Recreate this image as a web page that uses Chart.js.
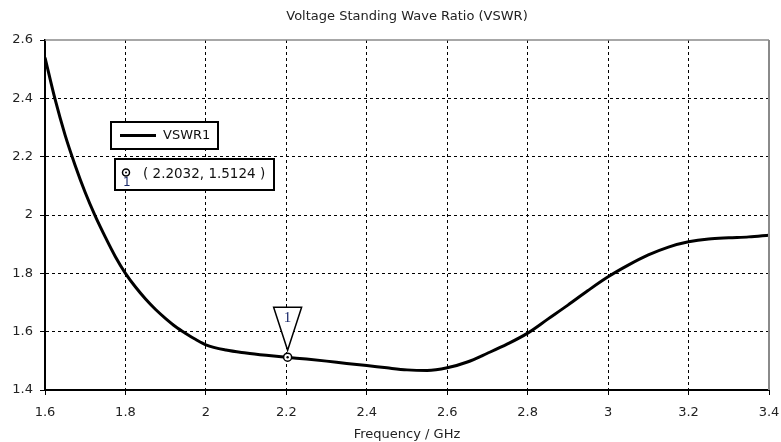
<!DOCTYPE html>
<html>
<head>
<meta charset="utf-8">
<script src="https://cdn.jsdelivr.net/npm/chart.js@4.4.1/dist/chart.umd.min.js"></script>
<style>
html,body{margin:0;padding:0;background:#fff;}
#wrap{width:781px;height:442px;}
</style>
</head>
<body>
<div id="wrap"><canvas id="c" width="781" height="442"></canvas></div>
<script>
const chartTitle = "Voltage Standing Wave Ratio (VSWR)";
const xTitle = "Frequency / GHz";
const seriesName = "VSWR1";
const freq = [1.6,1.625,1.65,1.675,1.7,1.725,1.75,1.775,1.8,1.825,1.85,1.875,1.9,1.925,1.95,1.975,2.0,2.05,2.1,2.15,2.2,2.25,2.3,2.35,2.4,2.45,2.5,2.55,2.6,2.65,2.7,2.75,2.8,2.85,2.9,2.95,3.0,3.05,3.1,3.15,3.2,3.25,3.3,3.35,3.4];
const vswr = [2.540,2.397,2.274,2.170,2.077,1.996,1.924,1.857,1.800,1.753,1.712,1.676,1.645,1.617,1.594,1.573,1.555,1.537,1.527,1.519,1.512,1.506,1.499,1.491,1.484,1.476,1.469,1.467,1.476,1.496,1.526,1.558,1.595,1.643,1.691,1.741,1.788,1.828,1.863,1.890,1.908,1.918,1.922,1.925,1.931];
const markerX = [2.2032];
const markerY = [1.5124];
const markerLabel = "1";
const xTicks = [1.6,1.8,2.0,2.2,2.4,2.6,2.8,3.0,3.2,3.4];
const yTicks = [1.4,1.6,1.8,2.0,2.2,2.4,2.6];

const FONT = "'DejaVu Sans', sans-serif";

const fmt = v => String(Number(Number(v).toFixed(1)));

const decor = {
  id: 'decor',
  afterDraw(chart) {
    const ctx = chart.ctx;
    const a = chart.chartArea;
    const xs = chart.scales.x, ys = chart.scales.y;
    ctx.save();
    // title
    ctx.fillStyle = '#222';
    ctx.font = "13px " + FONT;
    ctx.textAlign = 'center';
    ctx.textBaseline = 'middle';
    ctx.fillText(chartTitle, (a.left + a.right) / 2, 17);
    // frame top/right gray
    ctx.strokeStyle = '#8a8a8a';
    ctx.lineWidth = 1.5;
    ctx.beginPath();
    ctx.moveTo(a.left, a.top);
    ctx.lineTo(a.right, a.top);
    ctx.stroke();
    ctx.lineWidth = 2;
    ctx.beginPath();
    ctx.moveTo(a.right, a.top);
    ctx.lineTo(a.right, a.bottom);
    ctx.stroke();

    // legend box
    ctx.fillStyle = '#fff';
    ctx.strokeStyle = '#000';
    ctx.lineWidth = 2;
    ctx.fillRect(111, 122, 107, 27);
    ctx.strokeRect(111, 122, 107, 27);
    ctx.lineWidth = 3;
    ctx.beginPath();
    ctx.moveTo(120, 135.5);
    ctx.lineTo(156, 135.5);
    ctx.stroke();
    ctx.fillStyle = '#111';
    ctx.font = "13px " + FONT;
    ctx.textAlign = 'left';
    ctx.fillText(seriesName, 163, 136);

    // marker readout box
    ctx.fillStyle = '#fff';
    ctx.lineWidth = 2;
    ctx.fillRect(115, 159, 159, 31);
    ctx.strokeRect(115, 159, 159, 31);
    ctx.lineWidth = 1.5;
    ctx.beginPath();
    ctx.arc(126, 172.5, 3.5, 0, Math.PI * 2);
    ctx.stroke();
    ctx.fillStyle = '#000';
    ctx.beginPath();
    ctx.arc(126, 172.5, 1, 0, Math.PI * 2);
    ctx.fill();
    ctx.fillStyle = '#1a2a6a';
    ctx.font = "12px " + FONT;
    ctx.fillText(markerLabel, 123, 183);
    ctx.fillStyle = '#111';
    ctx.font = "13.5px " + FONT;
    ctx.fillText("( " + markerX[0].toFixed(4) + ", " + markerY[0].toFixed(4) + " )", 143, 174);

    // marker on curve
    const px = xs.getPixelForValue(markerX[0]);
    const py = ys.getPixelForValue(markerY[0]);
    ctx.fillStyle = '#fff';
    ctx.strokeStyle = '#000';
    ctx.lineWidth = 1.5;
    ctx.beginPath();
    ctx.moveTo(px - 14, py - 50);
    ctx.lineTo(px + 14, py - 50);
    ctx.lineTo(px, py - 7);
    ctx.closePath();
    ctx.fill();
    ctx.stroke();
    ctx.fillStyle = '#1a2a6a';
    ctx.font = "15px 'Liberation Serif', serif";
    ctx.textAlign = 'center';
    ctx.fillText(markerLabel, px, py - 39);
    ctx.beginPath();
    ctx.fillStyle = '#fff';
    ctx.arc(px, py, 4, 0, Math.PI * 2);
    ctx.fill();
    ctx.stroke();
    ctx.fillStyle = '#000';
    ctx.beginPath();
    ctx.arc(px, py, 1.2, 0, Math.PI * 2);
    ctx.fill();
    ctx.restore();
  }
};

new Chart(document.getElementById('c'), {
  type: 'line',
  data: {
    datasets: [{
      label: seriesName,
      data: freq.map((f, i) => ({x: f, y: vswr[i]})),
      borderColor: '#000',
      borderWidth: 3,
      pointRadius: 0,
      cubicInterpolationMode: 'monotone',
      fill: false
    }]
  },
  options: {
    responsive: false,
    animation: false,
    devicePixelRatio: 1,
    layout: {padding: {top: 40, right: 12, left: 0, bottom: 0}},
    plugins: {legend: {display: false}, title: {display: false}, tooltip: {enabled: false}},
    scales: {
      x: {
        type: 'linear',
        min: 1.6, max: 3.4,
        afterBuildTicks: s => { s.ticks = xTicks.map(v => ({value: v})); },
        afterFit: s => { s.height = 52; s.paddingLeft = 0; s.paddingRight = 0; },
        ticks: {
          callback: v => fmt(v),
          color: '#222',
          font: {family: FONT, size: 13},
          padding: 10,
          maxRotation: 0,
          autoSkip: false
        },
        title: {display: true, text: xTitle, color: '#222', font: {family: FONT, size: 13}, padding: {top: 2, bottom: 0}},
        grid: {
          color: c => (c.tick && (c.tick.value === 1.6 || c.tick.value === 3.4)) ? 'rgba(0,0,0,0)' : '#000',
          lineWidth: 1,
          tickColor: '#000',
          tickLength: 5,
          drawTicks: true
        },
        border: {display: true, color: '#000', width: 2, dash: [3, 3]}
      },
      y: {
        type: 'linear',
        min: 1.4, max: 2.6,
        afterBuildTicks: s => { s.ticks = yTicks.map(v => ({value: v})); },
        afterFit: s => { s.width = 45; s.paddingTop = 0; s.paddingBottom = 0; },
        ticks: {
          callback: v => fmt(v),
          color: '#222',
          font: {family: FONT, size: 13},
          padding: 7,
          autoSkip: false
        },
        grid: {
          color: c => (c.tick && (c.tick.value === 1.4 || c.tick.value === 2.6)) ? 'rgba(0,0,0,0)' : '#000',
          lineWidth: 1,
          tickColor: '#000',
          tickLength: 5,
          drawTicks: true
        },
        border: {display: true, color: '#000', width: 2, dash: [3, 3]}
      }
    }
  },
  plugins: [decor]
});
</script>
</body>
</html>
